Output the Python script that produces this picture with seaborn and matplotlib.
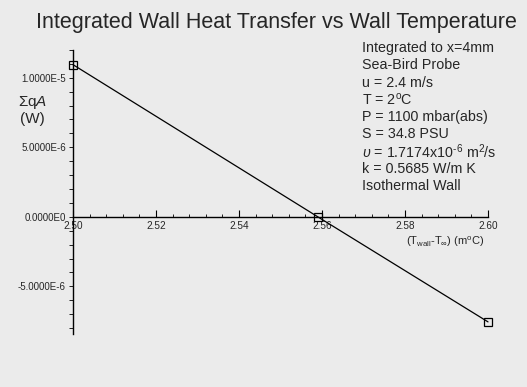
import matplotlib
matplotlib.use("Agg")
import matplotlib.pyplot as plt
import seaborn as sns
import pandas as pd
from matplotlib.ticker import MultipleLocator, FixedLocator, FixedFormatter

# Data

dT = [2.50, 2.559, 2.60]
sum_qA = [1.094e-5, 0.0, -7.55e-6]

xticks = [2.50, 2.52, 2.54, 2.56, 2.58, 2.60]
xtick_labels = ["2.50", "2.52", "2.54", "2.56", "2.58", "2.60"]
yticks = [1.0e-5, 5.0e-6, 0.0, -5.0e-6]
ytick_labels = ["1.0000E-5", "5.0000E-6", "0.0000E0", "-5.0000E-6"]

notes = [
    "Integrated to x=4mm",
    "Sea-Bird Probe",
    "u = 2.4 m/s",
    "T = 2$^{\\rm o}$C",
    "P = 1100 mbar(abs)",
    "S = 34.8 PSU",
    "$\\upsilon$ = 1.7174x10$^{\\text{-}6}$ m$^{\\rm 2}$/s",
    "k = 0.5685 W/m K",
    "Isothermal Wall",
]

# Setup

sns.set_style("white")
plt.rcParams["font.family"] = ["Liberation Sans", "DejaVu Sans"]
plt.rcParams["mathtext.fontset"] = "custom"
plt.rcParams["mathtext.rm"] = "Liberation Sans"
plt.rcParams["mathtext.it"] = "Liberation Sans:italic"
bg = "#ebebeb"

fig = plt.figure(figsize=(5.27, 3.87), dpi=100, facecolor=bg)
ax = fig.add_axes([0.1385, 0.137, 0.926 - 0.1385, 0.871 - 0.137])
ax.set_facecolor(bg)

df = pd.DataFrame({"dT": dT, "qA": sum_qA})
sns.lineplot(data=df, x="dT", y="qA", ax=ax, color="black", linewidth=0.9,
             marker="s", markersize=6.3, markerfacecolor="none",
             markeredgecolor="black", markeredgewidth=0.9)
for ln in ax.lines:
    ln.set_clip_on(False)

ax.set_xlim(2.50, 2.60)
ax.set_ylim(-8.42e-6, 1.2e-5)

# axes crossing at zero
ax.spines["top"].set_visible(False)
ax.spines["right"].set_visible(False)
ax.spines["bottom"].set_position(("data", 0.0))
for s in ["left", "bottom"]:
    ax.spines[s].set_color("black")
    ax.spines[s].set_linewidth(1.0)

ax.xaxis.set_major_locator(FixedLocator(xticks))
ax.xaxis.set_major_formatter(FixedFormatter(xtick_labels))
ax.xaxis.set_minor_locator(MultipleLocator(0.004))
ax.yaxis.set_major_locator(FixedLocator(yticks))
ax.yaxis.set_major_formatter(FixedFormatter(ytick_labels))
ax.yaxis.set_minor_locator(MultipleLocator(1e-6))

ax.tick_params(axis="x", which="major", direction="in", length=5, width=0.8,
               color="black", labelsize=7.2, pad=3, bottom=True)
ax.tick_params(axis="x", which="minor", direction="in", length=2.5, width=0.6,
               color="black", bottom=True)
ax.tick_params(axis="y", which="both", direction="out", length=3, width=0.6,
               color="black", labelsize=7.0, pad=2, left=True)
ax.set_xlabel("")
ax.set_ylabel("")

fig.text(0.524, 0.943, "Integrated Wall Heat Transfer vs Wall Temperature",
         ha="center", va="center", fontsize=15.5)
fig.text(0.061, 0.715, "$\\Sigma$q$A$\n(W)", ha="center", va="center",
         fontsize=11, linespacing=1.1)
fig.text(0.845, 0.375, "(T$_{\\rm wall}$-T$_{\\infty}$) (m$^{\\rm o}$C)",
         ha="center", va="center", fontsize=8)

for i, line in enumerate(notes):
    fig.text(0.687, 1 - (48 + 17.3 * i) / 387, line, ha="left", va="center",
             fontsize=10.3)

fig.savefig("out.png", dpi=100, facecolor=bg)
